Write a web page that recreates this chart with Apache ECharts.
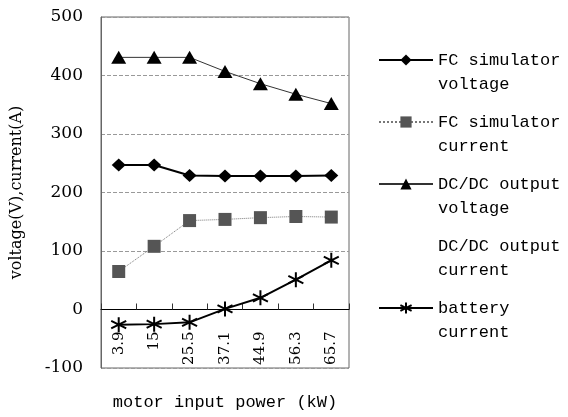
<!DOCTYPE html>
<html>
<head>
<meta charset="utf-8">
<script src="https://cdn.jsdelivr.net/npm/echarts@6/dist/echarts.min.js"></script>
<style>
  html, body { margin: 0; padding: 0; background: #fff; }
  #chart { width: 568px; height: 417px; }
</style>
</head>
<body>
<div id="chart"></div>
<script>
// motor input power (kW)
var categories = ['3.9', '15', '25.5', '37.1', '44.9', '56.3', '65.7'];
var yTicks = { min: -100, max: 500, step: 100 };

// series values
var fcVoltage = [247, 247, 229, 228, 228, 228, 229];
var fcCurrent = [65, 108, 152, 154, 157, 159, 158];
var dcVoltage = [431, 431, 431, 407, 386, 368, 352];
var dcCurrent = [];
var batteryCurrent = [-26, -25, -22, 1, 20, 51, 84];

var names = ['FC simulator voltage', 'FC simulator current', 'DC/DC output voltage', 'DC/DC output current', 'battery current'];
// leading blank line so the first text line sits level with the icon
var legendText = {
    'FC simulator voltage': ' \nFC simulator\nvoltage',
    'FC simulator current': ' \nFC simulator\ncurrent',
    'DC/DC output voltage': ' \nDC/DC output\nvoltage',
    'DC/DC output current': ' \nDC/DC output\ncurrent',
    'battery current': ' \nbattery\ncurrent'
};

var asterisk = 'path://M10,0L10,20M1.34,5L18.66,15M1.34,15L18.66,5';
var serif = 'DejaVu Serif';
var mono = 'Liberation Mono';

var gridTop = 17, gridBottom = 49;
var plotH = 417 - gridTop - gridBottom;
// lift the category axis up to the value 0 line
var zeroOffset = -plotH * (0 - yTicks.min) / (yTicks.max - yTicks.min);

var myChart = echarts.init(document.getElementById('chart'));
var options = {
    animation: false,
    backgroundColor: '#fff',
    grid: {
        left: 101,
        right: 219,
        top: gridTop,
        bottom: gridBottom,
        outerBoundsMode: 'none',
        containLabel: false,
        show: true,
        borderColor: '#666',
        borderWidth: 1
    },
    legend: {
        orient: 'vertical',
        left: 378,
        top: 24,
        padding: 0,
        itemWidth: 54,
        itemHeight: 14,
        itemGap: -10,
        data: [
            { name: names[0] },
            { name: names[1] },
            { name: names[2] },
            { name: names[3], itemStyle: { opacity: 0 }, lineStyle: { opacity: 0 } },
            { name: names[4] }
        ],
        formatter: function (n) { return legendText[n]; },
        textStyle: {
            fontFamily: mono,
            fontSize: 17,
            lineHeight: 24,
            color: '#000'
        }
    },
    xAxis: {
        type: 'category',
        data: categories,
        boundaryGap: true,
        offset: zeroOffset,
        name: 'motor input power (kW)',
        nameLocation: 'middle',
        nameGap: 84,
        nameTextStyle: { fontFamily: mono, fontSize: 17, color: '#000' },
        axisLine: { onZero: false, lineStyle: { color: '#000', width: 1 } },
        axisTick: { show: true, inside: true, length: 6, lineStyle: { color: '#333' } },
        axisLabel: {
            rotate: 90,
            margin: 22,
            fontFamily: serif,
            fontSize: 15,
            color: '#000',
            interval: 0
        },
        splitLine: { show: false }
    },
    yAxis: {
        type: 'value',
        min: yTicks.min,
        max: yTicks.max,
        interval: yTicks.step,
        name: 'voltage(V),current(A)',
        nameLocation: 'middle',
        nameGap: 76,
        nameTextStyle: { fontFamily: serif, fontSize: 16, color: '#000' },
        axisLine: { show: true, lineStyle: { color: '#666' } },
        axisTick: { show: false },
        axisLabel: { fontFamily: serif, fontSize: 17, color: '#000', margin: 18 },
        splitLine: { show: true, lineStyle: { color: '#999', type: 'dashed', width: 1 } }
    },
    series: [
        {
            name: names[0],
            type: 'line',
            data: fcVoltage,
            symbol: 'diamond',
            symbolSize: [14, 13],
            itemStyle: { color: '#000' },
            lineStyle: { color: '#000', width: 2 },
            z: 4
        },
        {
            name: names[1],
            type: 'line',
            data: fcCurrent,
            symbol: 'rect',
            symbolSize: 13,
            itemStyle: { color: '#555' },
            lineStyle: { color: '#777', width: 1, type: 'dotted' },
            z: 3
        },
        {
            name: names[2],
            type: 'line',
            data: dcVoltage,
            symbol: 'triangle',
            symbolSize: [15, 13],
            itemStyle: { color: '#000' },
            lineStyle: { color: '#333', width: 1 },
            z: 3
        },
        {
            name: names[3],
            type: 'line',
            data: dcCurrent,
            symbol: 'none',
            lineStyle: { width: 0, opacity: 0 },
            itemStyle: { opacity: 0 }
        },
        {
            name: names[4],
            type: 'line',
            data: batteryCurrent,
            symbol: asterisk,
            symbolSize: 15,
            itemStyle: { color: 'none', borderColor: '#000', borderWidth: 2 },
            lineStyle: { color: '#000', width: 2 },
            z: 4
        }
    ]
};
myChart.setOption(options);
window.addEventListener('resize', myChart.resize);
</script>
</body>
</html>
